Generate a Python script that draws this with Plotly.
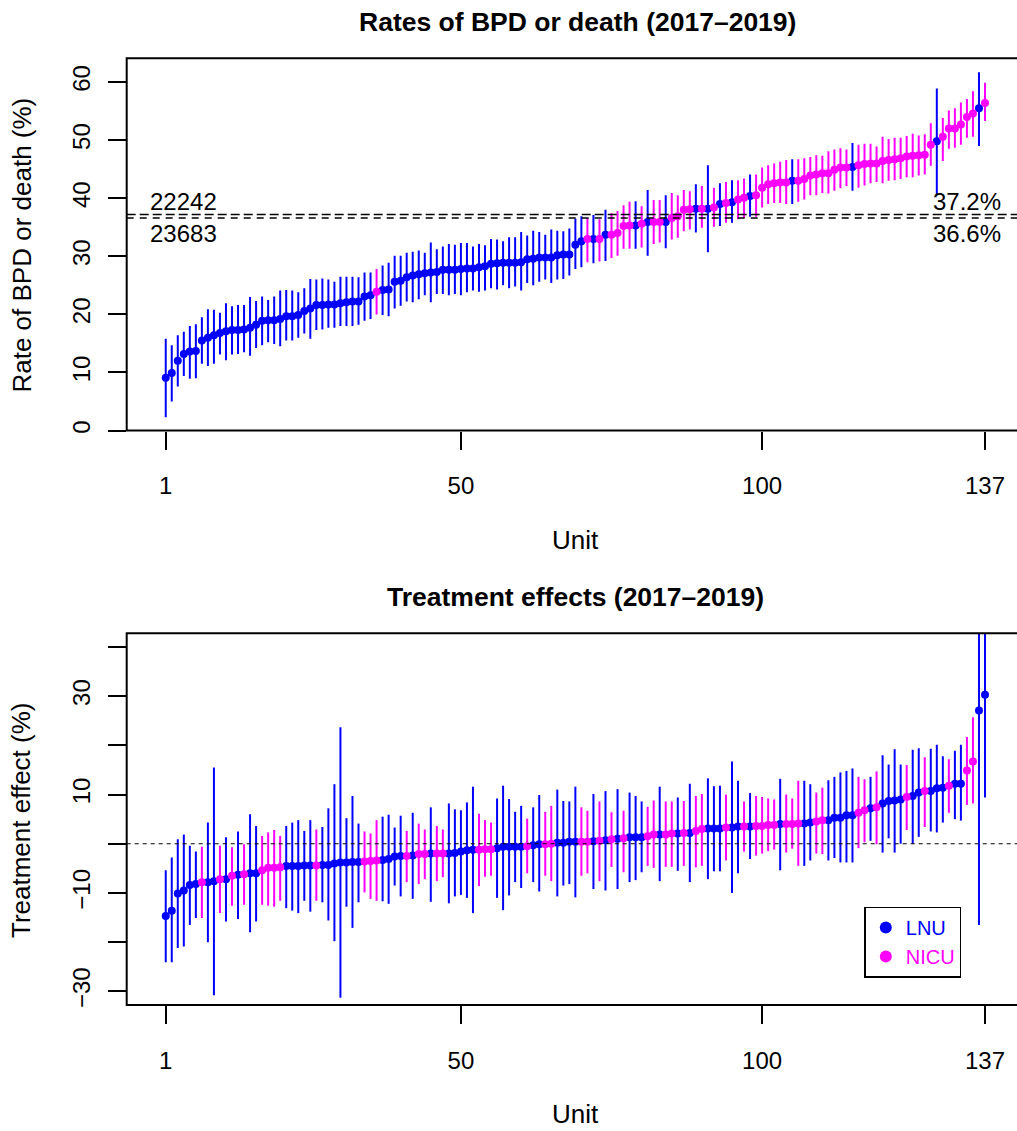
import plotly.graph_objects as go

# ---- data -------------------------------------------------------------
units = list(range(1, 138))

# Panel 1: BPD-or-death rate per unit (%), sorted, with 95% interval
rate_est = [
    9.1, 9.9, 12.0, 13.2, 13.6, 13.7, 15.5, 16.0, 16.4, 16.8,
    17.1, 17.3, 17.3, 17.4, 17.7, 18.2, 18.9, 19.0, 19.0, 19.2,
    19.7, 19.7, 19.9, 20.6, 21.0, 21.6, 21.6, 21.7, 21.7, 21.9,
    22.1, 22.2, 22.2, 23.1, 23.3, 23.9, 24.2, 24.3, 25.6, 25.8,
    26.4, 26.7, 26.9, 27.1, 27.2, 27.3, 27.7, 27.7, 27.7, 27.8,
    27.9, 27.9, 28.1, 28.3, 28.7, 28.8, 28.9, 28.9, 28.9, 29.0,
    29.5, 29.6, 29.8, 29.8, 29.8, 30.2, 30.3, 30.3, 32.0, 32.6,
    33.0, 33.0, 33.0, 33.7, 33.7, 34.0, 35.2, 35.3, 35.3, 35.6,
    35.9, 35.9, 35.9, 35.9, 36.6, 36.9, 38.0, 38.1, 38.2, 38.2,
    38.2, 38.4, 39.0, 39.2, 39.3, 39.8, 40.1, 40.4, 40.5, 41.8,
    42.4, 42.6, 42.7, 42.7, 43.0, 43.0, 43.3, 43.9, 44.1, 44.3,
    44.3, 44.9, 45.3, 45.3, 45.4, 45.7, 45.9, 46.0, 46.0, 46.4,
    46.6, 46.7, 46.9, 47.2, 47.3, 47.4, 47.5, 49.2, 49.8, 50.6,
    52.0, 52.0, 52.7, 54.0, 54.6, 55.5, 56.4,
]
rate_lo = [
    2.3, 5.0, 7.6, 9.4, 8.9, 9.0, 11.5, 11.1, 11.5, 13.1,
    12.1, 13.1, 13.2, 13.5, 12.9, 14.2, 14.7, 15.2, 14.9, 14.5,
    15.5, 15.5, 16.0, 16.7, 15.8, 17.3, 17.4, 17.7, 17.7, 18.0,
    18.0, 18.0, 18.2, 18.9, 19.2, 20.0, 19.9, 19.7, 21.0, 21.5,
    22.2, 22.1, 22.6, 23.3, 22.1, 23.5, 23.5, 23.3, 23.5, 23.3,
    23.8, 24.1, 23.9, 24.1, 24.5, 24.3, 25.0, 24.5, 24.8, 24.1,
    25.4, 25.0, 25.6, 26.0, 25.4, 26.0, 26.1, 26.7, 27.8, 28.1,
    29.0, 28.8, 29.1, 29.2, 29.7, 30.1, 31.3, 31.3, 31.3, 31.5,
    30.1, 32.1, 32.4, 31.4, 32.9, 33.2, 34.3, 34.6, 34.1, 34.9,
    30.7, 35.1, 35.2, 35.8, 35.8, 36.4, 36.6, 36.8, 36.8, 38.4,
    39.0, 39.2, 39.2, 39.0, 39.0, 39.4, 39.8, 40.5, 40.5, 40.9,
    40.8, 41.3, 41.7, 42.1, 41.3, 41.8, 42.2, 42.6, 42.8, 42.6,
    43.0, 43.1, 43.3, 43.6, 43.6, 43.9, 44.1, 45.6, 40.7, 46.4,
    48.5, 48.7, 49.2, 50.4, 50.6, 49.0, 53.3,
]
rate_hi = [
    15.8, 14.7, 16.4, 17.0, 18.0, 18.3, 19.5, 20.9, 20.8, 20.3,
    21.9, 21.4, 21.6, 21.6, 23.0, 22.3, 23.1, 22.5, 23.1, 24.1,
    24.2, 24.1, 23.8, 24.5, 26.1, 26.0, 26.2, 26.0, 25.6, 26.5,
    26.5, 26.5, 26.4, 27.2, 27.2, 27.8, 28.4, 28.9, 30.1, 30.1,
    30.6, 30.8, 31.0, 30.6, 32.4, 31.2, 31.7, 32.1, 32.0, 32.3,
    32.3, 31.7, 32.1, 31.9, 33.0, 32.9, 32.6, 33.3, 33.3, 34.2,
    33.6, 34.4, 34.2, 33.7, 34.6, 34.4, 34.3, 34.8, 36.5, 36.9,
    36.6, 37.1, 36.4, 38.0, 37.4, 37.8, 38.8, 39.4, 39.5, 38.6,
    41.4, 39.7, 39.7, 40.5, 40.9, 40.5, 41.4, 41.2, 42.4, 42.1,
    45.7, 41.8, 42.6, 42.8, 43.1, 43.1, 43.4, 44.1, 44.1, 45.3,
    45.7, 46.0, 46.3, 46.6, 46.7, 46.7, 46.9, 47.1, 47.4, 47.3,
    48.1, 48.4, 48.6, 48.4, 49.5, 49.2, 49.4, 49.4, 48.9, 50.6,
    50.2, 50.4, 50.4, 50.7, 51.1, 50.8, 51.0, 52.9, 58.9, 53.8,
    55.1, 55.5, 56.5, 57.1, 58.4, 61.7, 59.9,
]
# positions (in sorted order) of the NICU units; all others are LNU
rate_nicu = [
    36, 71, 73, 75, 76, 77, 78, 80, 82, 83, 85, 86, 87, 88, 90, 92, 94,
    96, 97, 99, 100, 101, 102, 103, 104,
    106, 107, 108, 109, 110, 111, 112, 113, 114,
    116, 117, 118, 119, 120, 121, 122, 123, 124, 125, 126, 127, 128,
    130, 131, 132, 133, 134, 135, 137,
]

# overall rates and their sample sizes
overall_rate = [37.2, 36.6]
overall_n = ["22242", "23683"]

# Panel 2: treatment effect per unit (%), sorted, with 95% interval
te_est = [
    -14.7, -13.6, -10.1, -9.5, -8.4, -8.2, -7.8, -7.8, -7.6, -7.2,
    -7.2, -6.5, -6.3, -6.2, -6.0, -6.0, -5.4, -4.9, -4.9, -4.8,
    -4.5, -4.5, -4.5, -4.4, -4.4, -4.4, -4.3, -4.3, -4.0, -3.8,
    -3.8, -3.7, -3.7, -3.6, -3.5, -3.4, -3.3, -3.1, -2.6, -2.5,
    -2.5, -2.4, -2.1, -2.1, -2.0, -2.0, -2.0, -2.0, -1.9, -1.6,
    -1.3, -1.2, -1.2, -1.1, -1.1, -0.9, -0.6, -0.6, -0.6, -0.6,
    -0.5, -0.3, -0.1, -0.1, 0.0, 0.2, 0.2, 0.4, 0.4, 0.4,
    0.4, 0.5, 0.6, 0.7, 0.9, 1.0, 1.1, 1.3, 1.3, 1.3,
    1.5, 1.9, 1.9, 1.9, 2.1, 2.1, 2.2, 2.2, 2.6, 3.0,
    3.1, 3.1, 3.1, 3.3, 3.3, 3.5, 3.5, 3.5, 3.6, 3.6,
    3.8, 3.8, 4.0, 4.0, 4.0, 4.1, 4.1, 4.3, 4.5, 4.8,
    4.8, 5.3, 5.3, 5.8, 5.8, 6.3, 6.8, 7.2, 7.4, 8.2,
    8.7, 8.8, 9.0, 9.5, 9.7, 10.4, 10.7, 10.7, 11.3, 11.4,
    11.8, 12.2, 12.2, 14.9, 16.7, 27.1, 30.3,
]
te_lo = [
    -24.1, -24.1, -21.2, -20.9, -16.5, -15.1, -15.1, -20.0, -30.8, -14.1,
    -15.8, -12.6, -15.3, -12.4, -18.0, -15.8, -12.4, -12.6, -12.8, -11.6,
    -13.1, -13.6, -14.1, -11.6, -13.8, -11.6, -11.9, -15.6, -19.8, -31.3,
    -12.8, -17.1, -11.9, -9.9, -11.2, -11.6, -11.7, -12.2, -8.5, -10.7,
    -7.8, -11.2, -8.2, -7.2, -11.8, -7.6, -6.8, -12.1, -10.7, -10.4,
    -11.0, -14.1, -8.6, -6.7, -6.5, -11.0, -13.5, -10.5, -7.8, -9.0,
    -6.0, -7.8, -9.7, -6.5, -7.6, -10.7, -8.5, -8.2, -10.9, -6.5,
    -6.0, -9.2, -7.6, -9.5, -4.7, -9.2, -5.8, -7.8, -7.4, -5.8,
    -4.5, -4.9, -7.6, -4.7, -4.7, -5.5, -4.5, -7.8, -4.8, -4.5,
    -7.2, -5.6, -5.6, -3.4, -10.0, -6.0, -1.6, -3.1, -2.4, -2.0,
    -1.5, -1.2, -5.4, -1.8, -1.0, -4.5, -4.5, -3.4, -2.0, -2.1,
    -3.4, -2.9, -3.8, -3.8, -3.8, -0.9, 0.3, 0.6, -0.1, -1.8,
    1.1, -1.8, 0.0, 2.8, 0.0, 1.4, 3.4, 2.5, 2.3, 4.3,
    6.3, 5.0, 4.7, 7.9, 8.2, -16.5, 9.4,
]
te_hi = [
    -5.4, -2.8, 0.9, 1.9, -0.4, -1.6, -0.6, 4.3, 15.5, -0.4,
    1.3, -0.7, 2.5, -0.1, 6.0, 3.6, 1.6, 2.3, 2.8, 1.6,
    3.6, 4.3, 4.8, 2.6, 4.8, 2.9, 3.4, 7.2, 12.1, 23.7,
    5.2, 9.7, 4.1, 2.5, 2.1, 4.8, 5.5, 5.9, 3.3, 5.7,
    2.6, 6.3, 4.1, 2.9, 7.4, 3.6, 2.9, 8.2, 7.0, 6.8,
    8.4, 11.6, 6.1, 4.8, 4.3, 9.2, 11.8, 9.1, 6.5, 7.7,
    5.1, 7.4, 9.9, 6.5, 7.7, 11.0, 8.7, 8.6, 11.6, 7.4,
    6.7, 10.1, 8.6, 10.7, 6.4, 11.1, 6.7, 10.4, 9.7, 8.6,
    7.5, 8.8, 11.6, 8.6, 8.6, 9.4, 8.7, 12.2, 9.7, 10.1,
    13.3, 11.7, 11.8, 10.0, 16.7, 12.8, 8.6, 10.3, 9.7, 9.5,
    9.2, 9.0, 13.2, 10.0, 9.2, 12.8, 12.8, 12.1, 10.4, 11.4,
    12.9, 13.6, 14.5, 14.8, 15.3, 13.6, 13.1, 13.6, 14.7, 18.0,
    16.1, 19.2, 16.1, 16.0, 19.1, 19.4, 17.6, 19.3, 20.1, 17.8,
    17.2, 18.9, 20.1, 21.7, 25.7, 70.7, 51.2,
]
te_nicu = [
    7, 10, 12, 14, 17, 18, 19, 20, 26, 34, 35, 36, 41, 43, 44, 46, 47,
    53, 54, 55, 61, 64, 65, 70, 71, 73, 75, 77, 81, 82, 84, 85, 87, 89,
    90, 94, 97, 99, 100, 101, 102, 104, 105, 106, 109, 110, 116, 117,
    119, 124, 127, 131, 134, 135,
]

x_ticks = [1, 50, 100, 137]
rate_ticks = [0, 10, 20, 30, 40, 50, 60]
te_tickvals = [-30, -20, -10, 0, 10, 20, 30, 40]
te_ticktext = ["\u221230", "", "\u221210", "", "10", "", "30", ""]

groups = [("LNU", "#0000FF"), ("NICU", "#FF00FF")]

# ---- figure -----------------------------------------------------------
FONT = "Liberation Sans, Arial, Helvetica, sans-serif"
W, H = 1017, 1131
fig = go.Figure()


def add_panel(est, lo, hi, nicu, xa, ya, legend):
    for name, color in groups:
        keep = [i for i, u in enumerate(units) if (u in nicu) == (name == "NICU")]
        fig.add_trace(go.Scatter(
            x=[units[i] for i in keep],
            y=[est[i] for i in keep],
            mode="markers",
            marker=dict(color=color, size=8),
            error_y=dict(
                type="data", symmetric=False,
                array=[hi[i] - est[i] for i in keep],
                arrayminus=[est[i] - lo[i] for i in keep],
                color=color, thickness=2, width=0,
            ),
            name=f"<span style='color:{color}'>{name}</span>",
            showlegend=legend,
            xaxis=xa, yaxis=ya,
        ))


add_panel(rate_est, rate_lo, rate_hi, rate_nicu, "x", "y", False)
add_panel(te_est, te_lo, te_hi, te_nicu, "x2", "y2", True)

x_left = 126.7
x_scale = 6.024  # px per unit
x_range = [-5.48, -5.48 + (W - x_left) / x_scale]


def py(pix):
    return 1 - pix / H


axis_common = dict(
    showgrid=False, zeroline=False, showline=False,
    ticks="outside", ticklen=18, tickwidth=2, tickcolor="black",
    tickfont=dict(family=FONT, size=24, color="black"),
)

fig.update_layout(
    width=W, height=H,
    margin=dict(l=0, r=0, t=0, b=0),
    paper_bgcolor="white", plot_bgcolor="white",
    font=dict(family=FONT, color="black"),
    xaxis=dict(domain=[x_left / W, 1], range=x_range, anchor="y",
               tickvals=x_ticks, ticklabelstandoff=16, **axis_common),
    yaxis=dict(domain=[py(431.7), py(58.3)], range=[0, 64.12], anchor="x",
               tickvals=rate_ticks, tickangle=-90, ticklabelstandoff=8,
               **axis_common),
    xaxis2=dict(domain=[x_left / W, 1], range=x_range, anchor="y2",
                tickvals=x_ticks, ticklabelstandoff=16, **axis_common),
    yaxis2=dict(domain=[py(1007.7), py(635)], range=[-32.78, 42.77],
                anchor="x2", tickvals=te_tickvals, ticktext=te_ticktext,
                tickangle=-90, ticklabelstandoff=8, **axis_common),
    legend=dict(
        x=864.3 / W, y=py(909), xanchor="left", yanchor="top",
        bgcolor="white", bordercolor="black", borderwidth=1.5,
        font=dict(family=FONT, size=20),
        tracegroupgap=0, itemsizing="constant",
    ),
    showlegend=True,
)

# plot frames (right edge lies past the page edge)
for xr, yr in (("x domain", "y domain"), ("x2 domain", "y2 domain")):
    fig.add_shape(type="rect", xref=xr, yref=yr, x0=0, x1=1.02, y0=0, y1=1,
                  line=dict(color="black", width=2), layer="above")

# overall-rate reference lines
for val, dash in zip(overall_rate, ["9px,4px", "7px,6px"]):
    fig.add_shape(type="line", xref="x domain", yref="y", x0=0, x1=1,
                  y0=val, y1=val, line=dict(color="black", width=1.5, dash=dash))
fig.add_shape(type="line", xref="x2 domain", yref="y2", x0=0, x1=1,
              y0=0, y1=0, line=dict(color="black", width=1.2, dash="4px,4px"))

ann_font = dict(family=FONT, size=24, color="black")
# sample sizes (left) and percentages (right) next to the reference lines
for val, n, shift in zip(overall_rate, overall_n, [13, -16]):
    fig.add_annotation(x=148.3 / W, xref="paper", y=val, yref="y",
                       text=n, showarrow=False, xanchor="left",
                       yanchor="middle", yshift=shift, font=ann_font)
    fig.add_annotation(x=1002.5 / W, xref="paper", y=val, yref="y",
                       text=f"{val}%", showarrow=False, xanchor="right",
                       yanchor="middle", yshift=shift, font=ann_font)

# titles and axis labels
titles = [
    ("<b>Rates of BPD or death (2017\u20132019)</b>", 577, 22),
    ("<b>Treatment effects (2017\u20132019)</b>", 575, 599),
]
for txt, cx, cy in titles:
    fig.add_annotation(x=cx / W, y=py(cy), xref="paper", yref="paper",
                       text=txt, showarrow=False, xanchor="center",
                       yanchor="middle",
                       font=dict(family=FONT, size=26.5, color="black"))

for cy in (541.5, 1117):
    fig.add_annotation(x=575 / W, y=py(cy), xref="paper", yref="paper",
                       text="Unit", showarrow=False, xanchor="center",
                       yanchor="middle",
                       font=dict(family=FONT, size=26, color="black"))

for txt, cy in (("Rate of BPD or death (%)", 245.5), ("Treatment effect (%)", 822.5)):
    fig.add_annotation(x=21.7 / W, y=py(cy), xref="paper", yref="paper",
                       text=txt, showarrow=False, textangle=-90,
                       xanchor="center", yanchor="middle",
                       font=dict(family=FONT, size=26, color="black"))

fig.write_html("out.html")
